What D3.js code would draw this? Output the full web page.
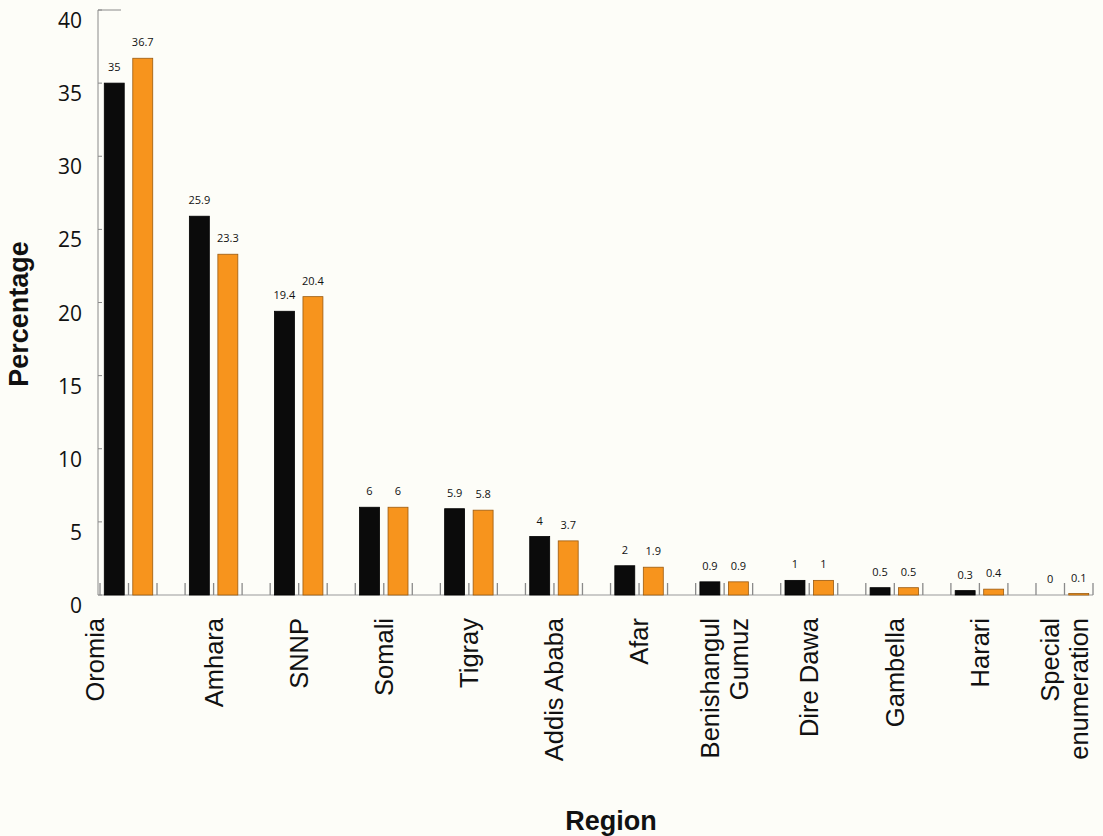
<!DOCTYPE html>
<html>
<head>
<meta charset="utf-8">
<script src="https://cdn.jsdelivr.net/npm/d3@7"></script>
<style>
  html, body { margin: 0; padding: 0; background: #fdfdf8; }
  svg { display: block; }
</style>
</head>
<body>
<svg id="chart" width="1103" height="836"></svg>
<script>
// ---- data ----
const categories = ["Oromia", "Amhara", "SNNP", "Somali", "Tigray", "Addis Ababa", "Afar",
  "Benishangul Gumuz", "Dire Dawa", "Gambella", "Harari", "Special enumeration"];
const categoryLines = [["Oromia"], ["Amhara"], ["SNNP"], ["Somali"], ["Tigray"], ["Addis Ababa"], ["Afar"],
  ["Benishangul", "Gumuz"], ["Dire Dawa"], ["Gambella"], ["Harari"], ["Special", "enumeration"]];
const seriesNames = ["black", "orange"];
const seriesBlack = [35, 25.9, 19.4, 6, 5.9, 4, 2, 0.9, 1, 0.5, 0.3, 0];
const seriesOrange = [36.7, 23.3, 20.4, 6, 5.8, 3.7, 1.9, 0.9, 1, 0.5, 0.4, 0.1];
const yTicks = [0, 5, 10, 15, 20, 25, 30, 35, 40];
const yTitle = "Percentage";
const xTitle = "Region";

// ---- layout ----
const svg = d3.select("#chart");
const W = 1103, H = 836;
const plotLeft = 98, plotRight = 1093, plotTop = 10, plotBase = 595;
const colors = { black: "#0b0b0b", orange: "#f7941d" };
const strokes = { black: "#000", orange: "#9a5a10" };

svg.append("rect").attr("width", W).attr("height", H).attr("fill", "#fdfdf8");

const x0 = d3.scaleBand().domain(categories).range([plotLeft + 2, plotRight]).paddingInner(0.33).paddingOuter(0);
const x1 = d3.scaleBand().domain(seriesNames).range([0, x0.bandwidth()]).paddingInner(0.3).paddingOuter(0.15);
const y = d3.scaleLinear().domain([0, 40]).range([plotBase, plotTop]);

const rows = categories.map((c, i) => ({ cat: c, lines: categoryLines[i], values: [
  { s: "black", v: seriesBlack[i] }, { s: "orange", v: seriesOrange[i] }] }));

// y axis
const yAxis = svg.append("g");
yAxis.append("line").attr("x1", plotLeft).attr("x2", plotLeft).attr("y1", y(40)).attr("y2", y(0))
  .attr("stroke", "#8a8a8a").attr("stroke-width", 1);
yAxis.append("line").attr("x1", plotLeft).attr("x2", plotLeft + 23).attr("y1", y(40)).attr("y2", y(40))
  .attr("stroke", "#8a8a8a").attr("stroke-width", 1);
yAxis.selectAll("line.tk").data(yTicks).join("line").attr("class", "tk")
  .attr("x1", plotLeft).attr("x2", plotLeft + 4).attr("y1", d => y(d)).attr("y2", d => y(d))
  .attr("stroke", "#8a8a8a");
yAxis.selectAll("text").data(yTicks).join("text")
  .attr("x", 82).attr("y", d => y(d) + 18)
  .attr("text-anchor", "end")
  .attr("font-family", "'Open Sans', sans-serif").attr("font-size", 21)
  .attr("fill", "#111").text(d => d);

// x axis baseline
svg.append("line").attr("x1", plotLeft).attr("x2", plotRight).attr("y1", plotBase).attr("y2", plotBase)
  .attr("stroke", "#999").attr("stroke-width", 1.2);

// x ticks: group left, middle, right
const tickPos = [];
categories.forEach(c => {
  const s = x0(c);
  tickPos.push(s, s + x0.bandwidth() / 2, s + x0.bandwidth());
});
svg.append("g").selectAll("line").data(tickPos).join("line")
  .attr("x1", d => d).attr("x2", d => d).attr("y1", plotBase).attr("y2", plotBase - 12)
  .attr("stroke", "#8a8a8a").attr("stroke-width", 1.3);

// bars
const groups = svg.append("g").selectAll("g").data(rows).join("g")
  .attr("transform", d => `translate(${x0(d.cat)},0)`);
groups.selectAll("rect").data(d => d.values).join("rect")
  .attr("x", d => x1(d.s))
  .attr("width", x1.bandwidth())
  .attr("y", d => y(d.v))
  .attr("height", d => plotBase - y(d.v))
  .attr("fill", d => colors[d.s])
  .attr("stroke", d => strokes[d.s])
  .attr("stroke-width", 0.8);
groups.selectAll("text").data(d => d.values).join("text")
  .attr("x", d => x1(d.s) + x1.bandwidth() / 2)
  .attr("y", d => y(d.v) - 12)
  .attr("text-anchor", "middle")
  .attr("font-family", "'Open Sans', sans-serif").attr("font-size", 11)
  .attr("fill", "#111").text(d => d.v);

// category labels (rotated)
const labelG = svg.append("g").selectAll("g").data(rows).join("g")
  .attr("transform", (d, i) => `translate(${x0(d.cat) + x0.bandwidth() / 2 + (i === 0 ? -34 : 0)},618)`);
labelG.each(function (d) {
  const n = d.lines.length;
  d3.select(this).selectAll("text").data(d.lines).join("text")
    .attr("transform", (t, j) => `translate(${(j - (n - 1) / 2) * 29},0) rotate(-90)`)
    .attr("dy", "0.36em")
    .attr("text-anchor", "end")
    .attr("font-family", "'Liberation Sans', Arial, sans-serif")
    .attr("font-size", 25.5).attr("fill", "#111")
    .text(t => t);
});

// titles
svg.append("text")
  .attr("transform", `translate(18.5,314) rotate(-90)`)
  .attr("dy", "0.36em").attr("text-anchor", "middle")
  .attr("font-family", "'Liberation Sans', Arial, sans-serif")
  .attr("font-weight", "bold").attr("font-size", 27).attr("fill", "#111")
  .text(yTitle);
svg.append("text")
  .attr("x", 611).attr("y", 830).attr("text-anchor", "middle")
  .attr("font-family", "'Liberation Sans', Arial, sans-serif")
  .attr("font-weight", "bold").attr("font-size", 27).attr("fill", "#111")
  .text(xTitle);
</script>
</body>
</html>
